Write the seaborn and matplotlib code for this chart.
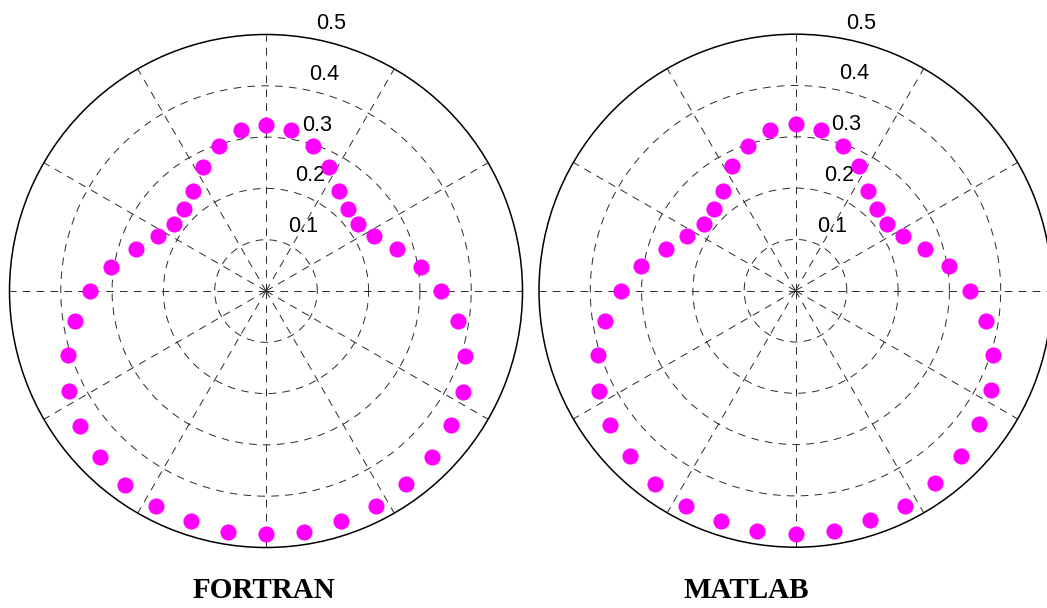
import numpy as np
import pandas as pd
import matplotlib
matplotlib.use("Agg")
import matplotlib.pyplot as plt
import seaborn as sns

# Sample angles (degrees), counter-clockwise from east, every 9 degrees
angles_deg = [0, 9, 18, 27, 36, 45, 54, 63, 72, 81,
              90, 99, 108, 117, 126, 135, 144, 153, 162, 171,
              180, 189, 198, 207, 216, 225, 234, 243, 252, 261,
              270, 279, 288, 297, 306, 315, 324, 333, 342, 351]

# Pattern magnitude computed by the FORTRAN code
fortran_r = [0.342, 0.305, 0.268, 0.237, 0.221, 0.226, 0.242, 0.272, 0.298, 0.317,
             0.324, 0.317, 0.297, 0.272, 0.241, 0.226, 0.221, 0.237, 0.267, 0.305,
             0.343, 0.377, 0.406, 0.430, 0.449, 0.457, 0.467, 0.471, 0.472, 0.475,
             0.474, 0.475, 0.472, 0.471, 0.465, 0.458, 0.446, 0.432, 0.408, 0.379]

# Pattern magnitude computed by the MATLAB code
matlab_r = [0.340, 0.303, 0.265, 0.236, 0.220, 0.225, 0.241, 0.272, 0.297, 0.317,
            0.324, 0.317, 0.297, 0.272, 0.241, 0.226, 0.221, 0.237, 0.265, 0.304,
            0.341, 0.375, 0.405, 0.429, 0.447, 0.457, 0.466, 0.470, 0.472, 0.475,
            0.474, 0.475, 0.471, 0.470, 0.463, 0.456, 0.443, 0.428, 0.404, 0.375]

ring_values = [0.1, 0.2, 0.3, 0.4, 0.5]
ring_labels = ["0.1", "0.2", "0.3", "0.4", "0.5"]
spoke_angles = list(range(0, 360, 30))
panel_titles = ["FORTRAN", "MATLAB"]

sns.set_style("white")
plt.rcParams["lines.scale_dashes"] = False

W, H = 1047, 608
fig = plt.figure(figsize=(W / 100, H / 100), dpi=100)

R_PX = 256.5
centers = [(266.0, 291.0), (795.5, 290.7)]
title_x = [264.0, 746.0]
series = [fortran_r, matlab_r]

for (cx, cy), radii, title, tx in zip(centers, series, panel_titles, title_x):
    rect = [(cx - R_PX) / W, (H - cy - R_PX) / H, 2 * R_PX / W, 2 * R_PX / H]
    ax = fig.add_axes(rect, projection="polar")
    ax.set_facecolor("none")

    df = pd.DataFrame({"theta": np.deg2rad(angles_deg), "r": radii})
    sns.scatterplot(data=df, x="theta", y="r", ax=ax, color="#ff00ff",
                    s=135, linewidth=0, zorder=5, clip_on=False)

    ax.set_ylim(0, ring_values[-1])
    ax.set_rgrids(ring_values[:-1], labels=[])
    ax.set_thetagrids(spoke_angles, labels=[])
    ax.tick_params(length=0)
    ax.grid(True, color="#2a2a2a", linestyle=(0, (5.5, 4.5)), linewidth=0.7)
    ax.spines["polar"].set_color("black")
    ax.spines["polar"].set_linewidth(1.1)
    ax.set_xlabel("")
    ax.set_ylabel("")

    # Radial value labels along the 82 degree direction
    for rv, lab in zip(ring_values, ring_labels):
        ax.annotate(lab, xy=(np.deg2rad(82), rv), xytext=(10.5, 5.8),
                    textcoords="offset points", ha="left", va="baseline",
                    fontsize=15.5, family="Liberation Sans", color="black",
                    zorder=3, annotation_clip=False)

    fig.text(tx / W, 1 - 598 / H, title, ha="center", va="baseline",
             fontsize=21, fontweight="bold", family="Liberation Serif",
             color="black")

fig.savefig("out.png", dpi=100)
